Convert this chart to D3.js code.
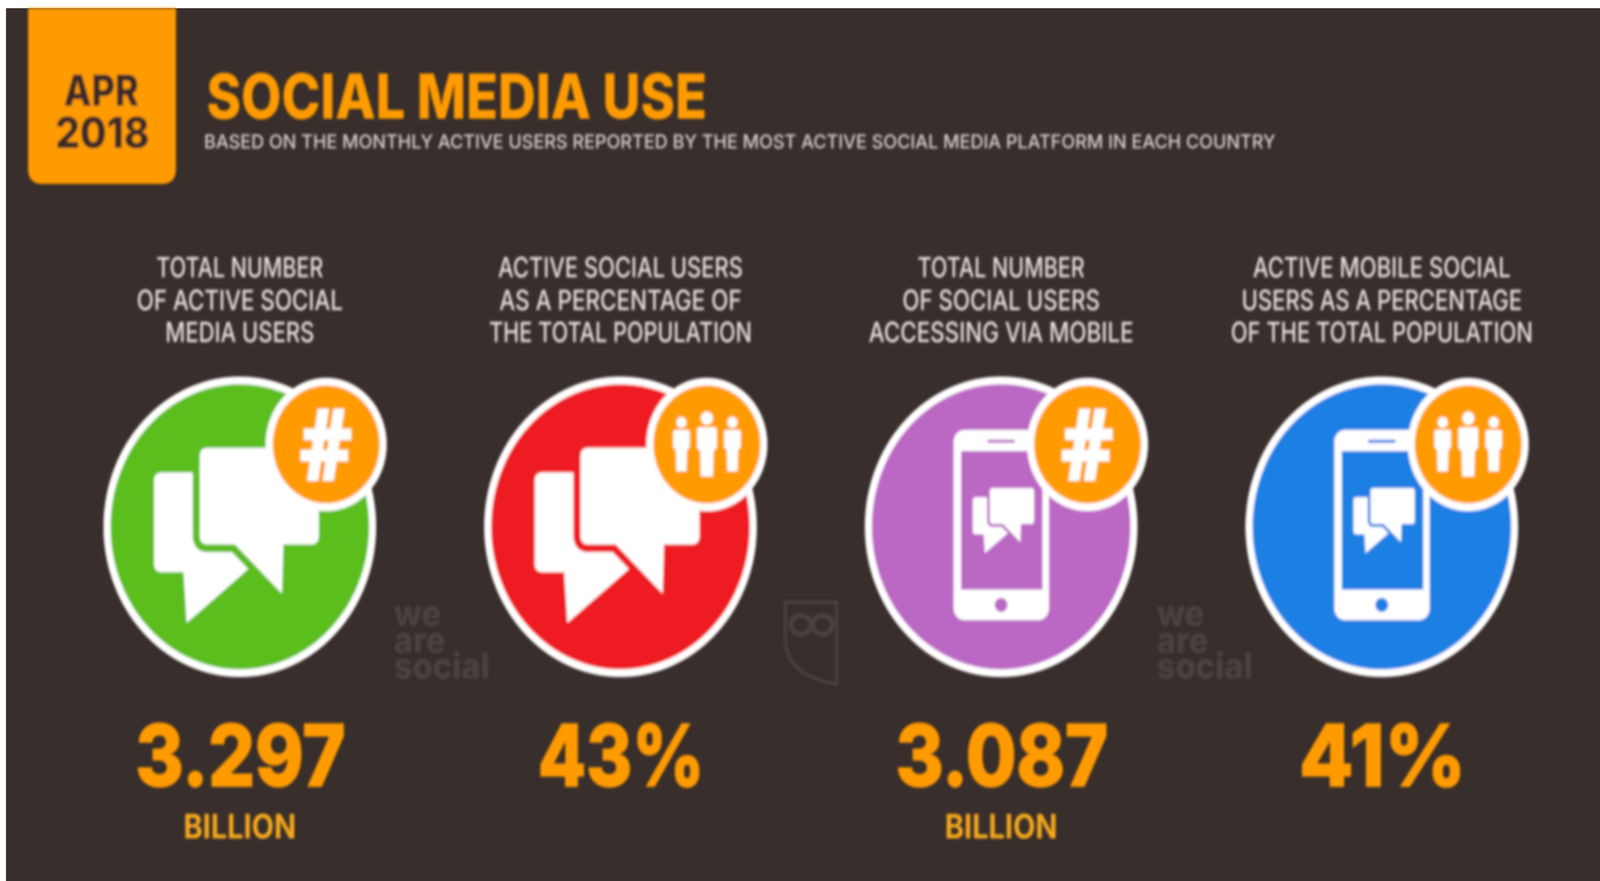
<!DOCTYPE html>
<html>
<head>
<meta charset="utf-8">
<script src="https://cdnjs.cloudflare.com/ajax/libs/d3/7.8.5/d3.min.js"></script>
<style>
html,body{margin:0;padding:0;background:#fff;overflow:hidden;width:100%;height:100%}
svg{display:block;width:100vw;height:100vh}
text{font-family:Inter,Roboto,sans-serif}
</style>
</head>
<body>
<script>
// ---- data ----
const categories = ["users", "usersPct", "mobile", "mobilePct"];
const labelLines = [
  ["TOTAL NUMBER", "OF ACTIVE SOCIAL", "MEDIA USERS"],
  ["ACTIVE SOCIAL USERS", "AS A PERCENTAGE OF", "THE TOTAL POPULATION"],
  ["TOTAL NUMBER", "OF SOCIAL USERS", "ACCESSING VIA MOBILE"],
  ["ACTIVE MOBILE SOCIAL", "USERS AS A PERCENTAGE", "OF THE TOTAL POPULATION"]
];
const values = [3.297, 43, 3.087, 41];
const units = ["BILLION", "", "BILLION", ""];
const kinds = ["count", "percent", "count", "percent"];
const devices = ["bubbles", "bubbles", "phone", "phone"];
const colours = ["#5cbe1f", "#ee1b20", "#bb67c4", "#1f7fe4"];
const titleText = "SOCIAL MEDIA USE";
const subtitleText = "BASED ON THE MONTHLY ACTIVE USERS REPORTED BY THE MOST ACTIVE SOCIAL MEDIA PLATFORM IN EACH COUNTRY";
const tabLines = ["APR", "2018"];
const watermarkLines = ["we", "are", "social"];

// ---- layout ----
const W = 4517, H = 2256;
const ORANGE = "#ff9b00", BG = "#382e2c", MARK = "#4b4240";
const labelWidths = [[471, 582, 421], [691, 684, 742], [472, 558, 748], [728, 792, 853]];
const valueWidths = [593, 470, 600, 471];
const x = d3.scalePoint().domain(categories).range([677, 3901]);
const fmt = (v, i) => kinds[i] === "count" ? d3.format(".3f")(v) : d3.format("d")(v) + "%";

const svg = d3.select("body").append("svg").attr("viewBox", [0, 0, W, H]).attr("preserveAspectRatio", "none");
svg.append("rect").attr("x", 17).attr("y", 21).attr("width", W - 17).attr("height", H - 21).attr("fill", BG);

const f = svg.append("defs").append("filter").attr("id", "soft")
  .attr("filterUnits", "userSpaceOnUse").attr("x", 0).attr("y", 0).attr("width", W).attr("height", H);
f.append("feGaussianBlur").attr("stdDeviation", 3.5);

const root = svg.append("g").attr("filter", "url(#soft)");

function fitText(g, str, px, py, size, weight, fill, width, anchor) {
  return g.append("text").attr("x", px).attr("y", py).attr("font-size", size).attr("font-weight", weight)
    .attr("fill", fill).attr("text-anchor", anchor || "middle")
    .attr("textLength", width).attr("lengthAdjust", "spacingAndGlyphs").text(str);
}

// tab
const tab = d3.path();
tab.moveTo(79, 21); tab.lineTo(79, 431); tab.quadraticCurveTo(79, 471, 119, 471);
tab.lineTo(457, 471); tab.quadraticCurveTo(497, 471, 497, 431); tab.lineTo(497, 21); tab.closePath();
root.append("path").attr("d", tab.toString()).attr("fill", ORANGE);
fitText(root, tabLines[0], 286, 271, 110, 800, "#3b2c26", 212);
fitText(root, tabLines[1], 289, 379, 110, 800, "#3b2c26", 266);

// header
fitText(root, titleText, 583, 304, 160, 800, ORANGE, 1413, "start");
fitText(root, subtitleText, 576, 380, 50, 500, "#d8d4d1", 3025, "start");

// bubbles
function bubble(x0, x1, y0, y1, r, tailA, tail, tailB) {
  const p = d3.path();
  p.moveTo(x0 + r, y0); p.lineTo(x1 - r, y0); p.quadraticCurveTo(x1, y0, x1, y0 + r);
  p.lineTo(x1, y1 - r); p.quadraticCurveTo(x1, y1, x1 - r, y1);
  p.lineTo(tailB[0], tailB[1]); p.lineTo(tail[0], tail[1]); p.lineTo(tailA[0], tailA[1]);
  p.lineTo(x0 + r, y1); p.quadraticCurveTo(x0, y1, x0, y1 - r);
  p.lineTo(x0, y0 + r); p.quadraticCurveTo(x0, y0, x0 + r, y0); p.closePath();
  return p.toString();
}
const smallBubblePath = (() => {
  const p = d3.path();
  p.moveTo(-220, -139); p.lineTo(24, -139); p.lineTo(24, 108); p.lineTo(-150, 246); p.lineTo(-159, 116);
  p.lineTo(-220, 116); p.quadraticCurveTo(-242, 116, -242, 94); p.lineTo(-242, -117);
  p.quadraticCurveTo(-242, -139, -220, -139); p.closePath();
  return p.toString();
})();
const bigBubblePath = bubble(-113, 223, -202, 45, 22, [-14, 45], [119, 171], [123, 45]);

function drawBubbles(g, colour) {
  g.append("path").attr("d", smallBubblePath).attr("fill", "#fff");
  g.append("path").attr("d", bigBubblePath).attr("fill", "#fff")
    .attr("stroke", colour).attr("stroke-width", 40).attr("stroke-linejoin", "round").attr("paint-order", "stroke");
}

function drawPhone(g, colour) {
  g.append("rect").attr("x", -134).attr("y", -248).attr("width", 269).attr("height", 487).attr("rx", 30).attr("fill", "#fff");
  g.append("rect").attr("x", -113).attr("y", -194).attr("width", 230).attr("height", 355).attr("fill", colour);
  g.append("rect").attr("x", -39).attr("y", -223).attr("width", 78).attr("height", 8).attr("rx", 4).attr("fill", colour);
  g.append("circle").attr("cx", 0).attr("cy", 200).attr("r", 18).attr("fill", colour);
  drawBubbles(g.append("g").attr("transform", "translate(10,-24) scale(0.372)"), colour);
}

const personPath = "M-21,-44Q-28,-44 -28,-36L-28,8L-19,18L-17,82L17,82L19,18L28,8L28,-36Q28,-44 21,-44Z";
function drawPerson(g, dx, s) {
  const t = g.append("g").attr("transform", `translate(${dx},0) scale(${s})`);
  t.append("circle").attr("cx", 0).attr("cy", -67).attr("r", 17).attr("fill", "#fff");
  t.append("path").attr("d", personPath).attr("fill", "#fff");
}

const columns = root.selectAll("g.col").data(categories).join("g").attr("class", "col")
  .attr("transform", d => `translate(${x(d)},0)`);

columns.each(function (d, i) {
  const col = d3.select(this);
  // label lines
  labelLines[i].forEach((line, j) => {
    fitText(col, line, 0, [710, 794, 876][j], 72, 500, "#e8e4e0", labelWidths[i][j]);
  });
  // main circle
  const icon = col.append("g").attr("transform", "translate(0,1349)");
  icon.append("circle").attr("r", 375).attr("fill", colours[i]).attr("stroke", "#fff").attr("stroke-width", 20);
  if (devices[i] === "bubbles") drawBubbles(icon, colours[i]); else drawPhone(icon, colours[i]);
  // badge
  const badge = icon.append("g").attr("transform", "translate(244,-211)");
  badge.append("circle").attr("r", 161).attr("fill", ORANGE).attr("stroke", "#fff").attr("stroke-width", 20);
  if (kinds[i] === "count") {
    badge.append("text").attr("y", 90).attr("text-anchor", "middle").attr("font-size", 250).attr("font-weight", 900)
      .attr("fill", "#fff").attr("stroke", "#fff").attr("stroke-width", 7).style("font-family", "Roboto").text("#");
  } else {
    drawPerson(badge, -72, 0.84); drawPerson(badge, 72, 0.84); drawPerson(badge, 0, 1);
  }
  // value
  fitText(col, fmt(values[i], i), 2, 2013, 218, 800, ORANGE, valueWidths[i])
    .attr("stroke", ORANGE).attr("stroke-width", 4);
  if (units[i]) fitText(col, units[i], 0, 2147, 86, 700, "#f7a91e", 318);
});

// watermarks
[1112, 3266].forEach(px => {
  const t = root.append("text").attr("font-size", 92).attr("font-weight", 800).attr("fill", MARK);
  watermarkLines.forEach((w, j) => {
    t.append("tspan").attr("x", px).attr("y", [1603, 1672, 1738][j]).text(w);
  });
});

// owl watermark
const owl = root.append("g").attr("fill", "none").attr("stroke", MARK).attr("stroke-width", 8);
const owlPath = d3.path();
owlPath.moveTo(2217, 1542); owlPath.lineTo(2362, 1542); owlPath.lineTo(2362, 1752);
owlPath.quadraticCurveTo(2222, 1730, 2217, 1640); owlPath.closePath();
owl.append("path").attr("d", owlPath.toString());
[2261, 2322].forEach(cx => owl.append("ellipse").attr("cx", cx).attr("cy", 1600).attr("rx", 28).attr("ry", 24).attr("stroke-width", 13));
</script>
</body>
</html>
